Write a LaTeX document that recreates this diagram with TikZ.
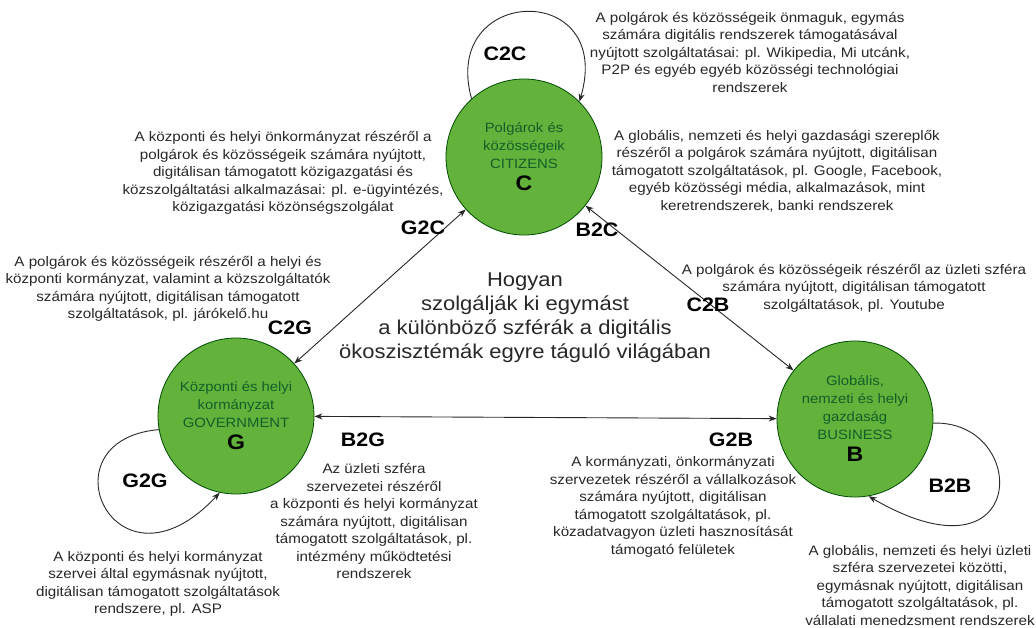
\documentclass[tikz,border=0pt]{standalone}
\usepackage{fontspec}
\setmainfont{Liberation Sans}[FakeStretch=1.1]
\usetikzlibrary{arrows.meta}
\definecolor{circfill}{RGB}{98,178,60}
\definecolor{circtext}{RGB}{20,95,40}
\definecolor{txt}{RGB}{40,40,40}
\definecolor{linecol}{RGB}{40,40,40}
\begin{document}
\begin{tikzpicture}[x=1pt,y=-1pt,
  sphere/.style={circle, draw=black!70!green, line width=0.8pt, fill=circfill,
    minimum size=156pt, inner sep=0pt, align=center, text=circtext,
    font=\fontsize{13.5}{18}\selectfont},
  desc/.style={align=center, text=txt, inner sep=0pt, font=\fontsize{13.8}{17.5}\selectfont},
  lbl/.style={text=black, inner sep=0pt, font=\fontsize{19.5}{22}\selectfont\bfseries},
  conn/.style={draw=linecol, line width=0.9pt},
  tip/.tip={Stealth[length=8pt,width=6pt]}
]
\useasboundingbox (0,0) rectangle (1036,628);
\fill[white] (0,0) rectangle (1036,628);

% spheres
\node[sphere] (C) at (524,157) {Polgárok és\\közösségeik\\CITIZENS\\[4pt]{\color{black}\fontsize{21}{22}\selectfont\bfseries C}};
\node[sphere] (G) at (236,416) {Központi és helyi\\kormányzat\\GOVERNMENT\\[4pt]{\color{black}\fontsize{21}{22}\selectfont\bfseries G}};
\node[sphere] (B) at (855,419) {Globális,\\nemzeti és helyi\\gazdaság\\BUSINESS\\[4pt]{\color{black}\fontsize{21}{22}\selectfont\bfseries B}};

% connectors between spheres
\draw[conn, {tip}-{tip}] (G) -- (C);
\draw[conn, {tip}-{tip}] (C) -- (B);
\draw[conn, {tip}-{tip}] (G) -- (B);

% self loops
\draw[conn, -{tip}] (C.132) .. controls (440,-15) and (615,-20) .. (C.45);
\draw[conn, -{tip}] (G.190) .. controls (40,440) and (115,605) .. (G.258);
\draw[conn, -{tip}] (B.357) .. controls (1030,420) and (1030,590) .. (B.280);

% labels
\node[lbl] (l_c2c) at (505,54) {C2C};
\node[lbl] (l_g2c) at (423,228) {G2C};
\node[lbl] (l_b2c) at (597,230) {B2C};
\node[lbl] (l_c2g) at (290,328) {C2G};
\node[lbl] (l_c2b) at (708,305) {C2B};
\node[lbl] (l_b2g) at (363,440) {B2G};
\node[lbl] (l_g2b) at (731,440) {G2B};
\node[lbl] (l_b2b) at (950,486) {B2B};
\node[lbl] (l_g2g) at (145,481) {G2G};

% center text
\node[align=center, text=txt, inner sep=0pt, font=\fontsize{20}{24}\selectfont] (center) at (525,318)
  {Hogyan\\szolgálják ki egymást\\a különböző szférák a digitális\\ökoszisztémák egyre táguló világában};

% descriptions
\node[desc] (t_c2c) at (750,52) {A polgárok és közösségeik önmaguk, egymás\\számára digitális rendszerek támogatásával\\nyújtott szolgáltatásai: pl. Wikipedia, Mi utcánk,\\P2P és egyéb egyéb közösségi technológiai\\rendszerek};
\node[desc] (t_b2c) at (777,171) {A globális, nemzeti és helyi gazdasági szereplők\\részéről a polgárok számára nyújtott, digitálisan\\támogatott szolgáltatások, pl. Google, Facebook,\\egyéb közösségi média, alkalmazások, mint\\keretrendszerek, banki rendszerek};
\node[desc] (t_g2c) at (283,173) {A központi és helyi önkormányzat részéről a\\polgárok és közösségeik számára nyújtott,\\digitálisan támogatott közigazgatási és\\közszolgáltatási alkalmazásai: pl. e-ügyintézés,\\közigazgatási közönségszolgálat};
\node[desc] (t_c2g) at (168,289) {A polgárok és közösségeik részéről a helyi és\\központi kormányzat, valamint a közszolgáltatók\\számára nyújtott, digitálisan támogatott\\szolgáltatások, pl. járókelő.hu};
\node[desc] (t_c2b) at (854,288) {A polgárok és közösségeik részéről az üzleti szféra\\számára nyújtott, digitálisan támogatott\\szolgáltatások, pl. Youtube};
\node[desc] (t_g2g) at (158,584) {A központi és helyi kormányzat\\szervei által egymásnak nyújtott,\\digitálisan támogatott szolgáltatások\\rendszere, pl. ASP};
\node[desc] (t_b2g) at (374,521) {Az üzleti szféra\\szervezetei részéről\\a központi és helyi kormányzat\\számára nyújtott, digitálisan\\támogatott szolgáltatások, pl.\\intézmény működtetési\\rendszerek};
\node[desc] (t_g2b) at (673,507) {A kormányzati, önkormányzati\\szervezetek részéről a vállalkozások\\számára nyújtott, digitálisan\\támogatott szolgáltatások, pl.\\közadatvagyon üzleti hasznosítását\\támogató felületek};
\node[desc] (t_b2b) at (920,585) {A globális, nemzeti és helyi üzleti\\szféra szervezetei közötti,\\egymásnak nyújtott, digitálisan\\támogatott szolgáltatások, pl.\\vállalati menedzsment rendszerek};
\end{tikzpicture}
\end{document}
